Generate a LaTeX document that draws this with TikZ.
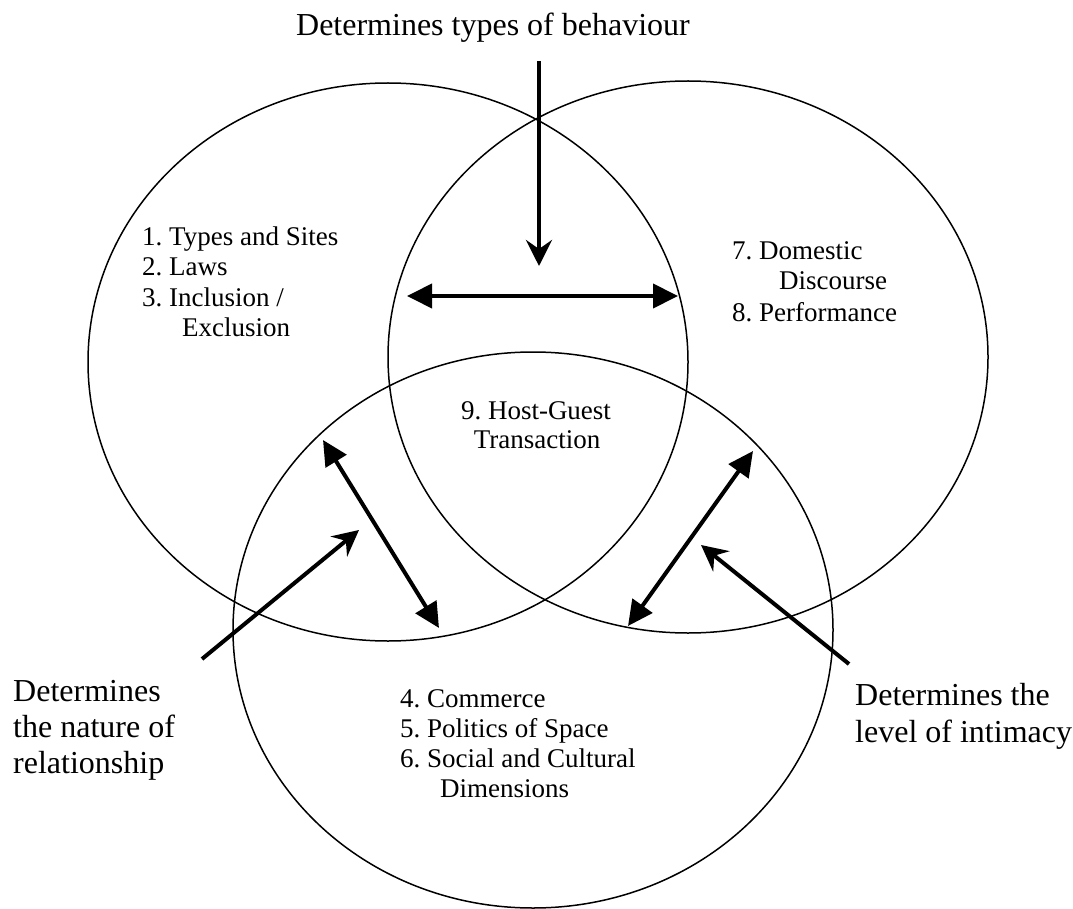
\documentclass[tikz,border=0pt]{standalone}
\usepackage{fontspec}
\setmainfont{Liberation Serif}
\usetikzlibrary{arrows.meta}
\frenchspacing
\begin{document}
\begin{tikzpicture}[x=1pt,y=-1pt,
  ring/.style={draw=black,line width=1.5pt},
  inner/.style={inner sep=0pt,anchor=base west,font=\fontsize{27}{30}\selectfont},
  outer/.style={inner sep=0pt,anchor=base west,font=\fontsize{32}{36}\selectfont},
  onearrow/.style={line width=4pt,-{Stealth[length=26pt,width=26pt,inset=9pt]}},
  twoarrow/.style={line width=4pt,{Triangle[length=25pt,width=24pt]}-{Triangle[length=25pt,width=24pt]}}]
\useasboundingbox (0,0) rectangle (1073,909);
% ellipses
\draw[ring] (388,362) ellipse [x radius=300, y radius=279];
\draw[ring] (688,357) ellipse [x radius=300, y radius=276];
\draw[ring] (533,630) ellipse [x radius=300, y radius=278];
% title
\node[inner sep=0pt,anchor=base,font=\fontsize{32}{36}\selectfont] (title) at (493,36) {Determines types of behaviour};
% left block
\node[inner] (l1) at (142,246) {1. Types and Sites};
\node[inner] (l2) at (142,276) {2. Laws};
\node[inner] (l3) at (142,306) {3. Inclusion /};
\node[inner] (l4) at (182,336) {Exclusion};
% right block
\node[inner] (r1) at (732,260) {7. Domestic};
\node[inner] (r2) at (779,290) {Discourse};
\node[inner] (r3) at (732,321) {8. Performance};
% centre
\node[inner,anchor=base] (c1) at (536,419) {9. Host-Guest};
\node[inner,anchor=base] (c2) at (537,448) {Transaction};
% bottom block
\node[inner] (b1) at (400,707) {4. Commerce};
\node[inner] (b2) at (400,737) {5. Politics of Space};
\node[inner] (b3) at (400,767) {6. Social and Cultural};
\node[inner] (b4) at (440,797) {Dimensions};
% side labels
\node[outer] (nl1) at (13,701) {Determines};
\node[outer] (nl2) at (13,737) {the nature of};
\node[outer] (nl3) at (13,773) {relationship};
\node[outer] (nr1) at (855,705) {Determines the};
\node[outer] (nr2) at (855,742) {level of intimacy};
% arrow end points
\coordinate (vA) at (539,61);
\coordinate (vB) at (539,266);
\coordinate (hA) at (407,296);
\coordinate (hB) at (678,296);
\coordinate (ldA) at (323,440);
\coordinate (ldB) at (439,628);
\coordinate (lsA) at (202,659);
\coordinate (lsB) at (359,530);
\coordinate (rdA) at (753,451);
\coordinate (rdB) at (628,626);
\coordinate (rsA) at (849,664);
\coordinate (rsB) at (701,545);
% arrows
\draw[onearrow] (vA) -- (vB);
\draw[twoarrow] (hA) -- (hB);
\draw[twoarrow] (ldA) -- (ldB);
\draw[onearrow] (lsA) -- (lsB);
\draw[twoarrow] (rdA) -- (rdB);
\draw[onearrow] (rsA) -- (rsB);
\end{tikzpicture}
\end{document}
